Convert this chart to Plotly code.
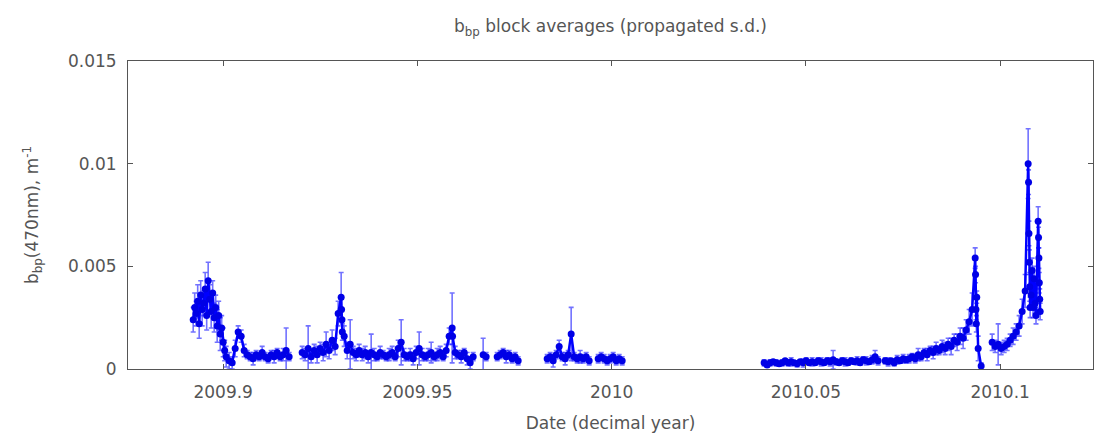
import numpy as np
import plotly.graph_objects as go

# Block-average segments: start time (decimal year), sampling step, number of blocks,
# and whether there is a data gap before the segment
seg_start = [2009.89228, 2009.90154, 2009.92033, 2009.93037, 2009.93115, 2009.95894, 2009.95972,
             2009.96692, 2009.97053, 2009.98340, 2009.99653, 2010.03925, 2010.07040, 2010.09357,
             2010.09434, 2010.09794, 2010.10721, 2010.10798, 2010.10978, 2010.11030]
seg_step = [0.000386, 0.000772, 0.000772, 0.0001, 0.000772, 0.0001, 0.000772,
            0.000772, 0.000772, 0.000772, 0.000772, 0.000772, 0.000772, 0.0001,
            0.000772, 0.000772, 0.0001, 0.00025, 0.0001, 0.000772]
seg_n = [23, 21, 13, 4, 36, 2, 7, 2, 8, 15, 9, 39, 30, 5, 2, 12, 6, 6, 5, 1]
seg_gap = [False, False, True, False, False, False, False, True, True, True, True, True, True,
           False, False, True, False, False, False, False]

# b_bp(470nm) block averages, in 1e-3 m^-1
bbp_milli = [
    2.4, 3.0, 2.7, 3.3, 2.2, 3.6, 2.9, 3.2, 3.9, 2.6, 4.3, 3.4, 2.8, 3.7, 2.5, 3.0, 2.1, 2.6, 1.7, 2.0, 1.3, 0.9, 0.6,
    0.4, 0.3, 1.0, 1.8, 1.6, 0.9, 0.7, 0.6, 0.5, 0.7, 0.6, 0.8, 0.6, 0.5, 0.7, 0.6, 0.8, 0.6, 0.7, 0.9, 0.6,
    0.8, 0.7, 1.0, 0.6, 0.9, 0.7, 1.0, 0.8, 1.2, 0.9, 1.4, 1.1, 2.7,
    3.5, 2.9, 2.4, 1.8,
    1.6, 0.9, 1.2, 0.8, 0.7, 0.9, 0.7, 0.8, 0.6, 0.8, 0.7, 0.6, 0.8, 0.7, 0.6, 0.7, 0.8, 0.6, 1.0, 1.3,
    0.7, 0.6, 0.7, 0.5, 0.8, 1.0, 0.7, 0.6, 0.7, 0.8, 0.6, 0.7, 0.8, 0.6, 0.9, 1.6,
    2.0, 1.6,
    0.8, 0.7, 0.6, 0.8, 0.5, 0.3, 0.6,
    0.7, 0.6,
    0.6, 0.7, 0.8, 0.6, 0.7, 0.5, 0.6, 0.4,
    0.5, 0.6, 0.4, 0.7, 1.1, 0.6, 0.5, 0.7, 1.7, 0.6, 0.5, 0.6, 0.5, 0.6, 0.4,
    0.5, 0.6, 0.5, 0.4, 0.5, 0.6, 0.4, 0.5, 0.4,
    0.3, 0.2, 0.3, 0.35, 0.3, 0.25, 0.3, 0.4, 0.3, 0.35, 0.3, 0.25, 0.35, 0.3, 0.4, 0.3, 0.35, 0.3, 0.4, 0.35,
    0.3, 0.4, 0.35, 0.45, 0.35, 0.3, 0.4, 0.35, 0.3, 0.4, 0.35, 0.4, 0.3, 0.45, 0.4, 0.35, 0.45, 0.6, 0.4,
    0.4, 0.35, 0.4, 0.3, 0.45, 0.4, 0.5, 0.45, 0.5, 0.6, 0.5, 0.7, 0.6, 0.8, 0.7, 0.9, 0.8, 1.0, 0.9, 1.1,
    1.0, 1.2, 1.1, 1.4, 1.3, 1.6, 1.5, 1.9, 2.3, 2.9,
    5.4, 4.6, 2.9, 2.2, 3.5,
    1.0, 0.15,
    1.3, 1.1, 1.2, 1.0, 1.1, 1.2, 1.4, 1.6, 1.8, 2.1, 2.8, 3.8,
    10.0, 9.1, 6.6, 5.2, 4.0, 3.0,
    3.6, 4.8, 3.0, 4.4, 3.2, 2.6,
    7.2, 6.4, 5.4, 4.2, 3.4,
    2.8,
]

# propagated standard deviation, in 1e-3 m^-1
sd_milli = [
    0.6, 0.7, 0.6, 0.8, 0.7, 0.7, 0.8, 0.6, 0.8, 0.7, 0.9, 0.7, 0.8, 0.6, 0.7, 0.6, 0.8, 0.7, 0.8, 0.6, 0.7, 0.5, 0.5,
    0.4, 0.3, 0.4, 0.3, 0.3, 0.3, 0.2, 0.2, 0.3, 0.2, 0.2, 0.3, 0.2, 0.2, 0.2, 0.3, 0.2, 0.2, 0.3, 1.1, 0.2,
    0.3, 0.3, 1.1, 0.3, 0.3, 0.4, 0.3, 0.4, 0.6, 0.4, 0.5, 0.4, 0.6,
    1.2, 0.5, 0.5, 0.4,
    0.5, 0.4, 1.2, 0.3, 0.3, 0.3, 0.3, 0.3, 0.3, 0.9, 0.3, 0.2, 0.3, 0.2, 0.2, 0.3, 0.3, 0.2, 0.4, 1.1,
    0.3, 0.2, 0.3, 0.3, 0.3, 0.8, 0.3, 0.2, 0.3, 0.5, 0.2, 0.3, 0.3, 0.2, 0.3, 0.4,
    1.7, 0.4,
    0.3, 0.2, 0.3, 0.2, 0.3, 0.3, 0.2,
    0.8, 0.2,
    0.2, 0.2, 0.2, 0.3, 0.2, 0.2, 0.2, 0.2,
    0.2, 0.2, 0.3, 0.2, 0.3, 0.2, 0.3, 0.2, 1.3, 0.2, 0.2, 0.3, 0.2, 0.2, 0.2,
    0.2, 0.2, 0.2, 0.2, 0.2, 0.2, 0.2, 0.2, 0.2,
    0.15, 0.1, 0.15, 0.1, 0.15, 0.1, 0.15, 0.1, 0.15, 0.2, 0.1, 0.15, 0.1, 0.2, 0.15, 0.1, 0.2, 0.1, 0.15, 0.2,
    0.1, 0.15, 0.2, 0.45, 0.15, 0.1, 0.15, 0.2, 0.1, 0.15, 0.1, 0.2, 0.1, 0.15, 0.2, 0.1, 0.2, 0.3, 0.2,
    0.15, 0.2, 0.1, 0.15, 0.2, 0.1, 0.2, 0.15, 0.2, 0.15, 0.2, 0.3, 0.2, 0.2, 0.3, 0.2, 0.3, 0.3, 0.2, 0.3,
    0.3, 0.3, 0.4, 0.3, 0.4, 0.4, 0.5, 0.5, 0.6, 0.8,
    0.5, 0.4, 0.5, 0.4, 0.3,
    0.6, 0.15,
    0.4, 0.3, 1.0, 0.3, 0.3, 0.3, 0.3, 0.4, 0.4, 0.5, 0.6, 0.8,
    1.7, 0.6, 0.6, 0.6, 0.7, 0.5,
    0.6, 0.6, 0.5, 0.6, 0.5, 0.4,
    0.7, 0.5, 0.5, 0.5, 0.5,
    0.4,
]

x_ticks = [2009.9, 2009.95, 2010.0, 2010.05, 2010.1]
x_ticklabels = ["2009.9", "2009.95", "2010", "2010.05", "2010.1"]
y_ticks = [0, 0.005, 0.01, 0.015]
y_ticklabels = ["0", "0.005", "0.01", "0.015"]

# build time axis of block centres; insert None at data gaps so the line breaks
t_list, y_list, e_list = [], [], []
k = 0
for s, d, n, gap in zip(seg_start, seg_step, seg_n, seg_gap):
    if gap:
        t_list.append(None); y_list.append(None); e_list.append(None)
    for i in range(n):
        t_list.append(s + d * i)
        y_list.append(bbp_milli[k] * 1e-3)
        e_list.append(sd_milli[k] * 1e-3)
        k += 1

FONT_FAMILY = "DejaVu Sans, Liberation Sans, sans-serif"
TEXT_COLOR = "#555555"
font = dict(family=FONT_FAMILY, size=17, color=TEXT_COLOR)

fig = go.Figure()
fig.add_trace(go.Scatter(
    x=t_list, y=y_list, mode="lines+markers", connectgaps=False,
    line=dict(color="#0000ff", width=2.5),
    marker=dict(color="#0000e6", size=7, line=dict(width=0)),
    error_y=dict(type="data", array=e_list, visible=True, color="rgba(20,20,255,0.6)",
                 thickness=1.6, width=2.5),
    showlegend=False,
))

fig.update_layout(
    width=1095, height=440,
    margin=dict(l=128, r=2, t=61, b=71),
    paper_bgcolor="white", plot_bgcolor="white",
    font=font,
    title=dict(text="b<sub>bp</sub> block averages (propagated s.d.)",
               x=0.5, xref="paper", xanchor="center", y=1 - 26 / 440, yref="container",
               yanchor="middle",
               font=dict(family=FONT_FAMILY, size=17, color=TEXT_COLOR)),
)

axis_common = dict(showline=True, linecolor="#555555", linewidth=1, mirror="ticks",
                   ticks="inside", ticklen=5, tickcolor="#555555", showgrid=False,
                   zeroline=False, tickfont=font, automargin=False)
fig.update_xaxes(range=[2009.8755, 2010.1239], tickvals=x_ticks, ticktext=x_ticklabels,
                 ticklabelstandoff=8,
                 title=dict(text="Date (decimal year)", font=font, standoff=15), **axis_common)
fig.update_yaxes(range=[0, 0.015], tickvals=y_ticks, ticktext=y_ticklabels,
                 ticklabelstandoff=7,
                 title=dict(text="b<sub>bp</sub>(470nm), m<sup>-1</sup>", font=font, standoff=24),
                 **axis_common)

fig.write_html("out.html")
